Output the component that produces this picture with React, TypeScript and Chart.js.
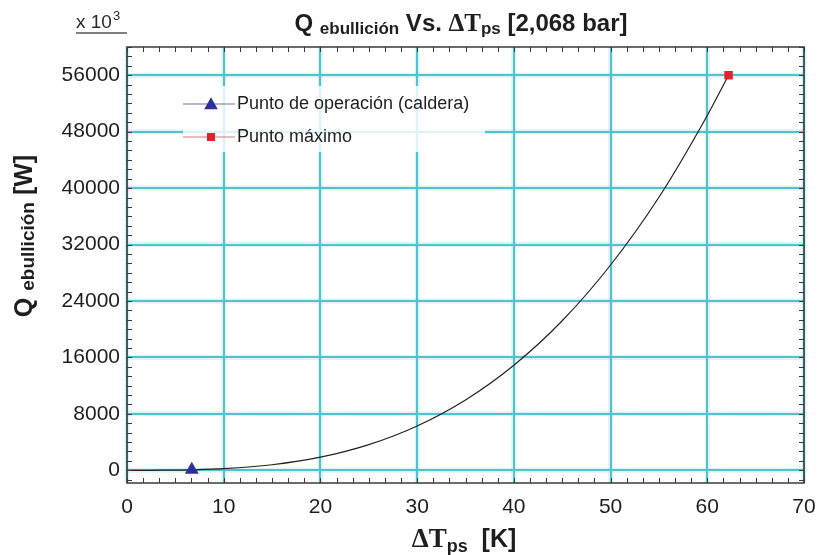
import React, { useEffect, useRef } from "react";
import { Chart, registerables } from "chart.js";

Chart.register(...registerables);

// ---- data ----
const curveDeltaT = [0, 2, 4, 6.7, 10, 15, 20, 25, 30, 35, 40, 45, 50, 55, 60, 62.2];
const curveQ = [0, 2, 15, 70, 233, 785, 1860, 3640, 6290, 9980, 14900, 21200, 29100, 38700, 50300, 56000];
const operationDeltaT = [6.7];
const operationQ = [70];
const maxDeltaT = [62.2];
const maxQ = [56000];
const xTicks = [0, 10, 20, 30, 40, 50, 60, 70];
const yTicks = [0, 8000, 16000, 24000, 32000, 40000, 48000, 56000];
const xRange = [0, 70];
const yRange = [-1800, 60000];
const seriesLabels = ["Q ebullición", "Punto de operación (caldera)", "Punto máximo"];

const SANS = "'Liberation Sans', Arial, Helvetica, sans-serif";
const SERIF = "'Liberation Serif', 'Times New Roman', serif";
const TEXT = "#1e1e1e";
const GRID = "rgb(84, 194, 204)";
const GRID_HALO = "rgba(160, 222, 228, 0.35)";
const FRAME = "#3a3a3a";

type Seg = { t: string; font: string; dy: number };

function drawSegs(ctx: CanvasRenderingContext2D, segs: Seg[], cx: number, baseY: number) {
  let total = 0;
  for (const s of segs) {
    ctx.font = s.font;
    total += ctx.measureText(s.t).width;
  }
  let x = cx - total / 2;
  ctx.textAlign = "left";
  ctx.textBaseline = "alphabetic";
  for (const s of segs) {
    ctx.font = s.font;
    ctx.fillText(s.t, x, baseY + s.dy);
    x += ctx.measureText(s.t).width;
  }
}

function minorValues(majors: number[], parts: number, lo: number, hi: number) {
  const step = (majors[1] - majors[0]) / parts;
  const out: number[] = [];
  const start = majors[0] - Math.floor((majors[0] - lo) / step) * step;
  for (let v = start; v <= hi + 1e-9; v += step) out.push(v);
  return out;
}

const decorPlugin = {
  id: "decor",
  beforeDraw(chart: any) {
    const { ctx, chartArea: a, scales } = chart;
    ctx.save();
    ctx.strokeStyle = GRID_HALO;
    ctx.lineWidth = 5;
    for (const v of xTicks) {
      const px = scales.x.getPixelForValue(v);
      ctx.beginPath();
      ctx.moveTo(px, a.top);
      ctx.lineTo(px, a.bottom);
      ctx.stroke();
    }
    for (const v of yTicks) {
      const py = scales.y.getPixelForValue(v);
      ctx.beginPath();
      ctx.moveTo(a.left, py);
      ctx.lineTo(a.right, py);
      ctx.stroke();
    }
    ctx.restore();
  },
  afterDatasetsDraw(chart: any) {
    const { ctx, chartArea: a, scales } = chart;
    ctx.save();
    // frame
    ctx.strokeStyle = FRAME;
    ctx.lineWidth = 1.5;
    ctx.strokeRect(a.left, a.top, a.right - a.left, a.bottom - a.top);
    // tick marks on all four sides
    ctx.lineWidth = 1;
    const tl = 5;
    for (const v of minorValues(xTicks, 6, xRange[0], xRange[1])) {
      const px = Math.round(scales.x.getPixelForValue(v)) + 0.5;
      ctx.beginPath();
      ctx.moveTo(px, a.bottom);
      ctx.lineTo(px, a.bottom - tl);
      ctx.moveTo(px, a.top);
      ctx.lineTo(px, a.top + tl);
      ctx.stroke();
    }
    for (const v of minorValues(yTicks, 6, yRange[0], yRange[1])) {
      const py = Math.round(scales.y.getPixelForValue(v)) + 0.5;
      ctx.beginPath();
      ctx.moveTo(a.left, py);
      ctx.lineTo(a.left + tl, py);
      ctx.moveTo(a.right, py);
      ctx.lineTo(a.right - tl, py);
      ctx.stroke();
    }

    // legend
    const ds = chart.data.datasets;
    const lx0 = 183, lx1 = 235, mx = 211, tx = 237;
    const rows = [104, 137];
    ctx.fillStyle = "rgba(255,255,255,0.8)";
    ctx.fillRect(lx0, 86, 302, 66);
    [1, 2].forEach((di, i) => {
      const d = ds[di];
      const y = rows[i];
      ctx.strokeStyle = d.legendLine;
      ctx.lineWidth = 1.2;
      ctx.beginPath();
      ctx.moveTo(lx0, y);
      ctx.lineTo(lx1, y);
      ctx.stroke();
      ctx.fillStyle = d.backgroundColor;
      if (d.pointStyle === "triangle") {
        const r = d.pointRadius;
        ctx.beginPath();
        ctx.moveTo(mx, y - r * 0.85);
        ctx.lineTo(mx + r * 0.85, y + r * 0.65);
        ctx.lineTo(mx - r * 0.85, y + r * 0.65);
        ctx.closePath();
        ctx.fill();
      } else {
        ctx.fillRect(mx - 4, y - 4, 8, 8);
      }
      ctx.fillStyle = TEXT;
      ctx.font = `18px ${SANS}`;
      ctx.textAlign = "left";
      ctx.textBaseline = "middle";
      ctx.fillText(d.label, tx, y);
    });

    ctx.restore();
  },
  afterDraw(chart: any) {
    const { ctx, chartArea: a } = chart;
    ctx.save();
    ctx.fillStyle = TEXT;
    // title
    drawSegs(
      ctx,
      [
        { t: "Q ", font: `bold 24px ${SANS}`, dy: 0 },
        { t: "ebullición", font: `bold 17px ${SANS}`, dy: 2.5 },
        { t: " Vs. ", font: `bold 24px ${SANS}`, dy: 0 },
        { t: "ΔT", font: `bold 25px ${SERIF}`, dy: 0 },
        { t: "ps", font: `bold 17px ${SANS}`, dy: 3 },
        { t: " [2,068 bar]", font: `bold 24px ${SANS}`, dy: 0 },
      ],
      461,
      31
    );
    // x axis title
    drawSegs(
      ctx,
      [
        { t: "ΔT", font: `bold 27px ${SERIF}`, dy: 0 },
        { t: "ps", font: `bold 18px ${SANS}`, dy: 5 },
        { t: "  [K]", font: `bold 25px ${SANS}`, dy: 0 },
      ],
      464,
      547
    );
    // y axis title
    ctx.save();
    ctx.translate(32, 236);
    ctx.rotate(-Math.PI / 2);
    drawSegs(
      ctx,
      [
        { t: "Q ", font: `bold 25px ${SANS}`, dy: 0 },
        { t: "ebullición", font: `bold 19px ${SANS}`, dy: 2 },
        { t: " [W]", font: `bold 25px ${SANS}`, dy: 0 },
      ],
      0,
      0
    );
    ctx.restore();
    // multiplier x 10^3
    ctx.fillStyle = "#2a2a2a";
    ctx.font = `19px ${SANS}`;
    ctx.textAlign = "left";
    ctx.textBaseline = "alphabetic";
    ctx.fillText("x 10", 76, 28);
    const w = ctx.measureText("x 10").width;
    ctx.font = `13px ${SANS}`;
    ctx.fillText("3", 76 + w + 1, 20);
    ctx.strokeStyle = "#555";
    ctx.lineWidth = 1.5;
    ctx.beginPath();
    ctx.moveTo(76, 33);
    ctx.lineTo(a.left, 33);
    ctx.stroke();
    ctx.restore();
  },
};

export default function App() {
  const ref = useRef<HTMLCanvasElement | null>(null);

  useEffect(() => {
    if (!ref.current) return;
    const chart = new Chart(ref.current, {
      type: "scatter",
      data: {
        datasets: [
          {
            label: seriesLabels[0],
            data: curveDeltaT.map((x, i) => ({ x, y: curveQ[i] })),
            showLine: true,
            borderColor: "#222222",
            borderWidth: 1.2,
            pointRadius: 0,
            cubicInterpolationMode: "monotone",
            order: 3,
          } as any,
          {
            label: seriesLabels[1],
            data: operationDeltaT.map((x, i) => ({ x, y: operationQ[i] })),
            pointStyle: "triangle",
            pointRadius: 8,
            backgroundColor: "#2d2f9c",
            borderColor: "#2d2f9c",
            borderWidth: 0,
            legendLine: "#6f70ad",
            order: 1,
          } as any,
          {
            label: seriesLabels[2],
            data: maxDeltaT.map((x, i) => ({ x, y: maxQ[i] })),
            pointStyle: "rect",
            pointRadius: 6,
            backgroundColor: "#e8202c",
            borderColor: "#e8202c",
            borderWidth: 0,
            legendLine: "#d87a80",
            order: 2,
          } as any,
        ],
      },
      options: {
        animation: false,
        responsive: false,
        devicePixelRatio: 1,
        layout: { padding: { top: 47, right: 13, left: 0, bottom: 0 } },
        plugins: {
          legend: { display: false },
          title: { display: false },
          tooltip: { enabled: false },
        },
        scales: {
          x: {
            type: "linear",
            min: xRange[0],
            max: xRange[1],
            afterBuildTicks: (s: any) => {
              s.ticks = xTicks.map((v) => ({ value: v }));
            },
            afterFit: (s: any) => {
              s.height = 72;
              s.paddingLeft = 0;
              s.paddingRight = 0;
            },
            grid: { color: GRID, lineWidth: 2, drawTicks: false },
            border: { display: false },
            ticks: {
              font: { family: SANS, size: 21 },
              color: TEXT,
              padding: 12,
              maxRotation: 0,
              autoSkip: false,
              callback: (v: any) => String(v),
            },
          },
          y: {
            type: "linear",
            min: yRange[0],
            max: yRange[1],
            afterBuildTicks: (s: any) => {
              s.ticks = yTicks.map((v) => ({ value: v }));
            },
            afterFit: (s: any) => {
              s.width = 127;
              s.paddingTop = 0;
              s.paddingBottom = 0;
            },
            grid: { color: GRID, lineWidth: 2, drawTicks: false },
            border: { display: false },
            ticks: {
              font: { family: SANS, size: 21 },
              color: TEXT,
              padding: 7,
              autoSkip: false,
              callback: (v: any) => String(v),
            },
          },
        },
      } as any,
      plugins: [decorPlugin],
    });
    return () => chart.destroy();
  }, []);

  return (
    <div style={{ position: "absolute", left: 0, top: 0, width: 817, height: 555, background: "#fff" }}>
      <canvas ref={ref} width={817} height={555} style={{ display: "block" }} />
    </div>
  );
}
